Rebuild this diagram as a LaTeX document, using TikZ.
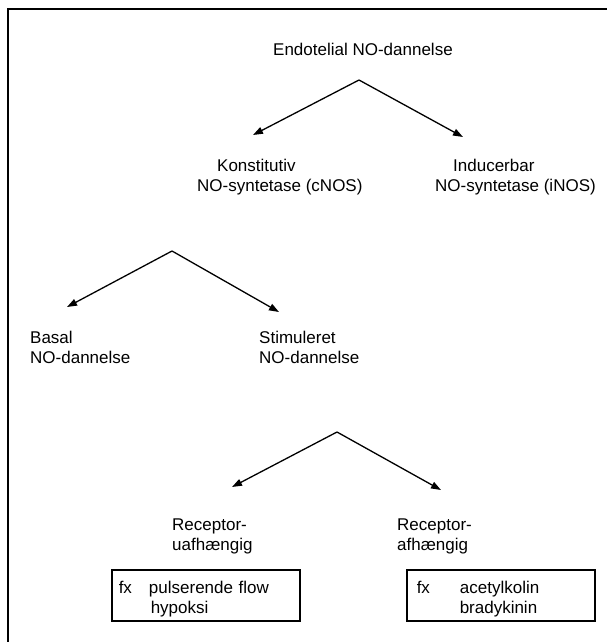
\documentclass[tikz,border=0pt]{standalone}
\usepackage{fontspec}
\setmainfont{Liberation Sans}
\usetikzlibrary{arrows.meta}
\begin{document}
\begin{tikzpicture}[x=1pt,y=-1pt,
  lbl/.style={anchor=north west,inner sep=0pt,font=\fontsize{17}{20}\selectfont,align=left},
  arr/.style={line width=1.3pt,-{Triangle[length=10pt,width=7pt]}},
  fxbox/.style={draw,line width=1.5pt,anchor=north west,inner xsep=7pt,inner ysep=0pt,
    text width=174pt,minimum width=188pt,minimum height=51pt,align=left,
    text height=12.4pt,text depth=15.4pt,font=\fontsize{17}{20}\selectfont}]
\useasboundingbox (0,0) rectangle (607,642);
\fill[white] (0,0) rectangle (607,642);
% frame
\coordinate (ftr) at (607,9);
\coordinate (ftl) at (8,9);
\coordinate (fbl) at (8,642);
\draw[line width=2pt] (ftr) -- (ftl) -- (fbl);
% texts
\node[lbl] (title) at (273,42.5) {Endotelial NO-dannelse};
\node[lbl] (cnos) at (197,158.5) {\hspace*{20pt}Konstitutiv\\NO-syntetase (cNOS)};
\node[lbl] (inos) at (435,158.5) {\hspace*{18pt}Inducerbar\\NO-syntetase (iNOS)};
\node[lbl] (basal) at (30,330.5) {Basal\\NO-dannelse};
\node[lbl] (stim) at (259,330.5) {Stimuleret\\NO-dannelse};
\node[lbl] (ruaf) at (172,518.5) {Receptor-\\uafhængig};
\node[lbl] (raf) at (397,518.5) {Receptor-\\afhængig};
\node[fxbox] (box1) at (111,569) {fx\hspace{17pt}pulserende flow\\\hspace*{32pt}hypoksi};
\node[fxbox] (box2) at (406,569) {\hspace*{3pt}fx\hspace{30pt}acetylkolin\\\hspace*{46pt}bradykinin};
% arrows
\coordinate (a1) at (359,80);
\coordinate (t1l) at (253,135);
\coordinate (t1r) at (463,137);
\coordinate (a2) at (172,251);
\coordinate (t2l) at (67,307);
\coordinate (t2r) at (279,312);
\coordinate (a3) at (337,432);
\coordinate (t3l) at (232,487);
\coordinate (t3r) at (441,490);
\draw[arr] (a1) -- (t1l);
\draw[arr] (a1) -- (t1r);
\draw[arr] (a2) -- (t2l);
\draw[arr] (a2) -- (t2r);
\draw[arr] (a3) -- (t3l);
\draw[arr] (a3) -- (t3r);
\end{tikzpicture}
\end{document}
